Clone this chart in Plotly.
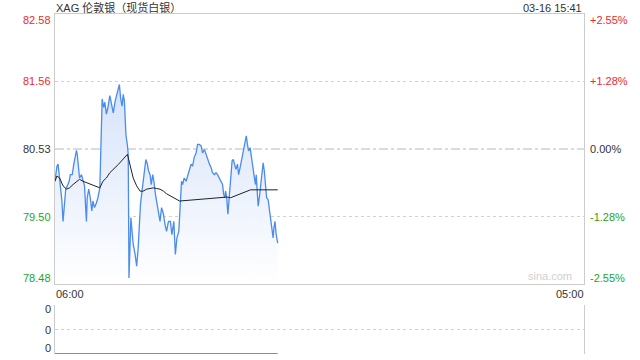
import plotly.graph_objects as go
import pandas as pd

title_text = "XAG 伦敦银（现货白银）"
stamp_text = "03-16 15:41"
watermark_text = "sina.com"
trade_date = "2026-03-16"
next_date = "2026-03-17"
session_start = "06:00"
session_end = "05:00"
prev_close = 80.53
price_ticks = [82.58, 81.56, 80.53, 79.50, 78.48]
x_tick_labels = ["06:00", "05:00"]
volume_tick_labels = ["0", "0", "0"]

price_times = ["06:00","06:05","06:08","06:10","06:14","06:18","06:21","06:24","06:28","06:32",
               "06:37","06:40","06:45","06:49","06:52","06:56","06:58","07:01","07:04","07:09",
               "07:13","07:17","07:20","07:22","07:24","07:28","07:32","07:36","07:39","07:43",
               "07:48","07:52","07:57","07:59","08:01","08:03","08:07","08:10","08:14","08:18",
               "08:23","08:28","08:32","08:37","08:41","08:45","08:48","08:51","08:55","08:58",
               "09:01","09:03","09:05","09:09","09:11","09:13","09:16","09:18","09:21","09:24",
               "09:29","09:33","09:37","09:40","09:43","09:47","09:50","09:54","09:57","10:01",
               "10:04","10:08","10:11","10:15","10:18","10:22","10:25","10:30","10:34","10:38",
               "10:43","10:47","10:51","10:56","11:01","11:05","11:10","11:14","11:18","11:23",
               "11:25","11:27","11:30","11:33","11:37","11:42","11:46","11:50","11:55","11:59",
               "12:03","12:08","12:12","12:16","12:21","12:25","12:30","12:34","12:38","12:43",
               "12:47","12:51","12:56","13:00","13:04","13:09","13:13","13:17","13:20","13:23",
               "13:25","13:28","13:31","13:35","13:38","13:42","13:45","13:49","13:52","13:56",
               "13:59","14:03","14:06","14:10","14:13","14:16","14:19","14:22","14:25","14:29",
               "14:32","14:36","14:39","14:43","14:45","14:48","14:50","14:54","14:57","15:01",
               "15:03","15:06","15:09","15:12","15:16","15:19","15:23","15:26","15:29","15:31",
               "15:34","15:37","15:41"]
prices = [80.04,80.27,80.30,80.20,79.99,79.74,79.43,79.69,79.92,79.97,
          80.04,80.14,80.14,80.30,80.40,80.51,80.45,80.25,80.09,80.14,
          80.04,79.97,79.64,79.43,79.79,79.92,79.79,79.59,79.74,79.64,
          79.71,79.79,79.94,80.40,81.26,81.29,81.16,81.24,81.06,81.16,
          81.34,81.21,81.08,81.26,81.36,81.41,81.51,81.31,81.18,81.36,
          81.26,81.01,80.75,80.58,80.45,78.57,79.13,79.49,79.28,79.08,
          78.93,78.75,79.03,79.43,79.69,79.89,80.04,80.25,80.37,80.30,
          80.20,80.14,79.99,80.14,80.04,79.84,79.74,79.54,79.43,79.64,
          79.54,79.38,79.28,79.43,79.43,79.23,79.43,78.93,79.18,79.28,
          79.54,79.79,80.04,79.99,80.09,80.04,80.14,80.20,80.30,80.27,
          80.40,80.47,80.60,80.60,80.58,80.47,80.52,80.45,80.37,80.30,
          80.25,80.17,80.14,80.17,80.14,80.09,80.04,79.99,79.84,79.79,
          79.89,79.79,79.54,79.84,80.14,80.35,80.37,80.30,80.22,80.30,
          80.14,80.25,80.35,80.45,80.55,80.65,80.73,80.60,80.50,80.55,
          80.40,80.27,80.14,79.99,80.14,79.84,79.66,79.84,79.99,80.20,
          80.32,80.20,79.94,79.79,79.76,79.64,79.49,79.33,79.18,79.33,
          79.43,79.23,79.10]

avg_times = ["06:00","06:05","06:12","06:21","06:30","06:38","06:47","06:56","07:04","07:13",
             "07:22","07:30","07:39","07:48","07:57","08:05","08:14","08:23","08:46","09:09",
             "09:16","09:24","09:33","09:42","09:50","09:59","10:08","10:17","10:25","10:34",
             "10:43","10:51","11:25","13:29","13:38","13:56","14:13","14:30","15:41"]
avg_prices = [80.04,80.12,80.09,79.97,79.92,79.94,79.99,80.04,80.07,80.04,
              80.02,79.99,79.97,79.95,79.94,80.04,80.09,80.17,80.30,80.45,
              80.30,80.09,79.97,79.89,79.89,79.92,79.93,79.94,79.93,79.92,
              79.89,79.85,79.74,79.80,79.79,79.83,79.87,79.91,79.91]

volume_times = ["06:00", "15:41"]
volumes = [0, 0]


def day_time(t):
    return pd.Timestamp(f"{trade_date} {t}")


px_x = [day_time(t) for t in price_times]
avg_x = [day_time(t) for t in avg_times]
vol_x = [day_time(t) for t in volume_times]
x_start = day_time(session_start)
x_end = pd.Timestamp(f"{next_date} {session_end}")

RED = "#ee2a2a"
GREEN = "#1da61d"
DARK = "#333333"
BLUE = "#4a8bee"
FONT = "Arial, 'Liberation Sans', 'Noto Sans CJK SC', sans-serif"

W, H = 640, 360
ML, MR, MT, MB = 55, 56, 14, 6
ph = H - MT - MB
main_bottom = (354 - 284) / ph
vol_top = (354 - 305) / ph

fig = go.Figure()
fig.add_trace(go.Scatter(
    x=px_x, y=prices, mode="lines", line=dict(color=BLUE, width=1.3),
    fill="tozeroy",
    fillgradient=dict(type="vertical",
                      colorscale=[[0, "rgba(255,255,255,1)"], [1, "rgba(212,226,249,1)"]],
                      start=price_ticks[-1], stop=81.6),
    xaxis="x", yaxis="y", hoverinfo="skip", showlegend=False))
fig.add_trace(go.Scatter(
    x=avg_x, y=avg_prices, mode="lines", line=dict(color="#222222", width=1),
    xaxis="x", yaxis="y", hoverinfo="skip", showlegend=False))
fig.add_trace(go.Scatter(
    x=vol_x, y=volumes, mode="lines", line=dict(color="#666666", width=1.5),
    xaxis="x2", yaxis="y2", hoverinfo="skip", showlegend=False, cliponaxis=False))

grid_col = "#d2d2d2"
border_col = "#cccccc"

fig.update_layout(
    width=W, height=H, margin=dict(l=ML, r=MR, t=MT, b=MB, pad=0),
    paper_bgcolor="white", plot_bgcolor="white",
    font=dict(family=FONT, size=11, color=DARK),
    xaxis=dict(domain=[0, 1], range=[x_start, x_end], type="date",
               showgrid=False, zeroline=False, showticklabels=False, ticks="",
               showline=True, mirror=True, linecolor=border_col, linewidth=1,
               anchor="y"),
    yaxis=dict(domain=[main_bottom, 1], range=[price_ticks[-1], price_ticks[0]],
               tickvals=[price_ticks[1], price_ticks[3]],
               showgrid=True, gridcolor=grid_col, griddash="dot", gridwidth=1,
               zeroline=False, showticklabels=False, ticks="",
               showline=True, mirror=True, linecolor=border_col, linewidth=1,
               anchor="x"),
    xaxis2=dict(domain=[0, 1], range=[x_start, x_end], type="date", matches="x",
                showgrid=False, zeroline=False, showticklabels=False, ticks="",
                showline=False, anchor="y2"),
    yaxis2=dict(domain=[0, vol_top], range=[0, 1], tickvals=[0, 0.5, 1],
                showgrid=True, gridcolor=grid_col, griddash="dot", gridwidth=1,
                zeroline=False, showticklabels=False, ticks="",
                showline=True, mirror=True, linecolor=border_col, linewidth=1,
                anchor="x2"),
    hovermode=False,
)

# previous close line
fig.add_shape(type="line", xref="x domain", yref="y", x0=0, x1=1,
              y0=prev_close, y1=prev_close,
              line=dict(color="#b8b8b8", width=1, dash="dashdot"), layer="below")

anns = []
n = len(price_ticks)
for i, v in enumerate(price_ticks):
    if v > prev_close:
        col = RED
    elif v < prev_close:
        col = GREEN
    else:
        col = DARK
    pct = (v / prev_close - 1) * 100
    pct_txt = "0.00%" if abs(pct) < 0.005 else f"{pct:+.2f}%"
    shift = -6 if i == 0 else (6 if i == n - 1 else 0)
    anns.append(dict(xref="paper", yref="y", x=0, y=v, xanchor="right", yanchor="middle",
                     xshift=-2, yshift=shift, text=f"{v:.2f}", showarrow=False,
                     font=dict(color=col, size=11)))
    anns.append(dict(xref="paper", yref="y", x=1, y=v, xanchor="left", yanchor="middle",
                     xshift=4, yshift=shift, text=pct_txt, showarrow=False,
                     font=dict(color=col, size=11)))

vol_pos = [1, 0.5, 0]
vol_shift = [-4, 0, 6]
for p, s, t in zip(vol_pos, vol_shift, volume_tick_labels):
    anns.append(dict(xref="paper", yref="y2", x=0, y=p, xanchor="right", yanchor="middle",
                     xshift=-2, yshift=s, text=t, showarrow=False,
                     font=dict(color=DARK, size=11)))

anns.append(dict(xref="x", yref="paper", x=x_start, y=main_bottom, xanchor="left",
                 yanchor="top", xshift=-1, yshift=-2, text=x_tick_labels[0], showarrow=False,
                 font=dict(color=DARK, size=11)))
anns.append(dict(xref="x", yref="paper", x=x_end, y=main_bottom, xanchor="right",
                 yanchor="top", xshift=2, yshift=-2, text=x_tick_labels[1], showarrow=False,
                 font=dict(color=DARK, size=11)))
anns.append(dict(xref="paper", yref="paper", x=0, y=1, xanchor="left", yanchor="bottom",
                 xshift=-1, yshift=-2, text=title_text, showarrow=False,
                 font=dict(color=DARK, size=11)))
anns.append(dict(xref="paper", yref="paper", x=1, y=1, xanchor="right", yanchor="bottom",
                 xshift=0, yshift=-2, text=stamp_text, showarrow=False,
                 font=dict(color=DARK, size=11)))
anns.append(dict(xref="paper", yref="paper", x=1, y=main_bottom, xanchor="right",
                 yanchor="bottom", xshift=-10, yshift=0, text=watermark_text, showarrow=False,
                 font=dict(color="#d0d0d0", size=11)))

fig.update_layout(annotations=anns)
fig.write_html("out.html")
